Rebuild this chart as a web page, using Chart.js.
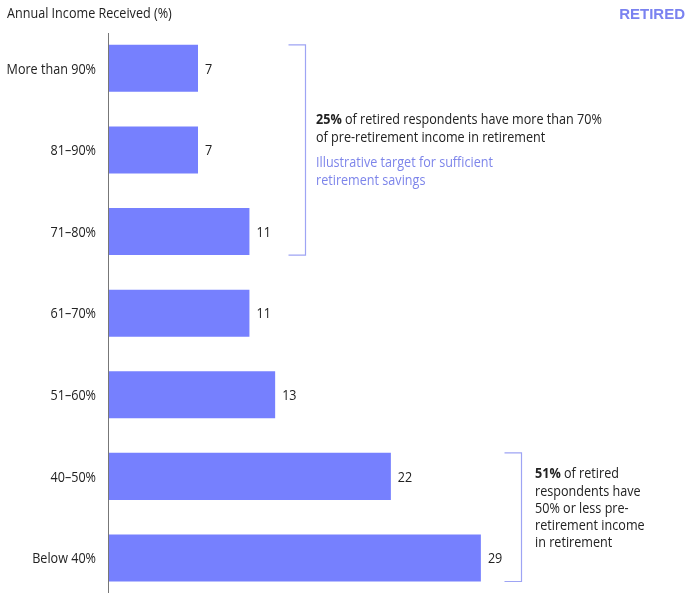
<!DOCTYPE html>
<html>
<head>
<meta charset="utf-8">
<script src="https://cdn.jsdelivr.net/npm/chart.js@4"></script>
<style>
  body { margin: 0; background: #fff; }
  #wrap { position: relative; width: 689px; height: 608px; }
</style>
</head>
<body>
<div id="wrap"><canvas id="chart"></canvas></div>
<script>
// data
const categories = ["More than 90%", "81–90%", "71–80%", "61–70%", "51–60%", "40–50%", "Below 40%"];
const values = [7, 7, 11, 11, 13, 22, 29];
const axisTitle = "Annual Income Received (%)";
const tag = "RETIRED";

const FONT = "'Open Sans', 'Noto Sans', sans-serif";
const SIZE = 15;
const SX = 0.84; // squeeze text sideways, the original face is a condensed one
const barColor = "#7680fe";
const bracketColor = "#9ea4f4";
const textColor = "#222222";

// writes narrow text, returns its width
function say(ctx, str, x, y, bold, align) {
  ctx.font = (bold ? "bold " : "") + SIZE + "px " + FONT;
  ctx.textAlign = align || "left";
  ctx.save();
  ctx.translate(x, y);
  ctx.scale(SX, 1);
  ctx.fillText(str, 0, 0);
  ctx.restore();
  return ctx.measureText(str).width * SX;
}

// draws the axis, labels, titles and the two brackets with notes
const extras = {
  id: "extras",
  afterDatasetsDraw(chart) {
    const ctx = chart.ctx;
    const meta = chart.getDatasetMeta(0);
    const area = chart.chartArea;
    const yScale = chart.scales.y;
    ctx.save();

    // vertical axis line
    ctx.strokeStyle = "#777";
    ctx.lineWidth = 1;
    ctx.beginPath();
    ctx.moveTo(area.left + 0.5, 33);
    ctx.lineTo(area.left + 0.5, 593);
    ctx.stroke();

    ctx.fillStyle = textColor;
    ctx.textBaseline = "middle";
    // category labels
    chart.data.labels.forEach((lab, i) => {
      say(ctx, lab, area.left - 12, yScale.getPixelForValue(i) + 1, false, "right");
    });
    // value labels
    meta.data.forEach((bar, i) => {
      say(ctx, String(values[i]), bar.x + 7, bar.y + 1);
    });

    // top titles
    ctx.textBaseline = "alphabetic";
    say(ctx, axisTitle, 7, 18);
    ctx.font = "bold 15px 'Liberation Sans', Arial, sans-serif";
    ctx.fillStyle = "#7a82f0";
    ctx.textAlign = "right";
    ctx.fillText(tag, 685, 19);

    // brackets
    function bracket(first, last, x, len) {
      const top = meta.data[first].y - meta.data[first].height / 2;
      const bot = meta.data[last].y + meta.data[last].height / 2;
      ctx.strokeStyle = bracketColor;
      ctx.lineWidth = 1.2;
      ctx.beginPath();
      ctx.moveTo(x - len, top);
      ctx.lineTo(x, top);
      ctx.lineTo(x, bot);
      ctx.lineTo(x - len, bot);
      ctx.stroke();
    }
    bracket(0, 2, 305.5, 17);
    bracket(5, 6, 521.5, 17);

    function rich(parts, x, y) {
      parts.forEach(([txt, bold]) => {
        x += say(ctx, txt, x, y, bold);
      });
    }
    // note beside the first bracket
    ctx.fillStyle = textColor;
    rich([["25%", true], [" of retired respondents have more than 70%", false]], 316, 124);
    rich([["of pre-retirement income in retirement", false]], 316, 141.5);
    ctx.fillStyle = "#7d85ea";
    rich([["Illustrative target for sufficient", false]], 316, 167);
    rich([["retirement savings", false]], 316, 184.5);

    // note beside the second bracket
    ctx.fillStyle = textColor;
    rich([["51%", true], [" of retired", false]], 535, 478);
    rich([["respondents have", false]], 535, 495.5);
    rich([["50% or less pre-", false]], 535, 513);
    rich([["retirement income", false]], 535, 530);
    rich([["in retirement", false]], 535, 547);

    ctx.restore();
  }
};

new Chart(document.getElementById("chart"), {
  type: "bar",
  plugins: [extras],
  data: {
    labels: categories,
    datasets: [{
      data: values,
      backgroundColor: barColor,
      borderWidth: 0,
      barPercentage: 0.576,
      categoryPercentage: 1
    }]
  },
  options: {
    indexAxis: "y",
    responsive: true,
    maintainAspectRatio: false,
    animation: false,
    layout: { padding: { top: 27.5, bottom: 9.2, left: 0, right: 2.4 } },
    plugins: {
      legend: { display: false },
      tooltip: { enabled: false }
    },
    scales: {
      x: {
        display: false,
        min: 0,
        max: 45
      },
      y: {
        grid: { display: false, drawTicks: false },
        border: { display: false },
        ticks: { display: false },
        afterFit(scale) {
          scale.width = 108;
          scale.paddingTop = 0;
          scale.paddingBottom = 0;
        }
      }
    }
  }
});
</script>
</body>
</html>
